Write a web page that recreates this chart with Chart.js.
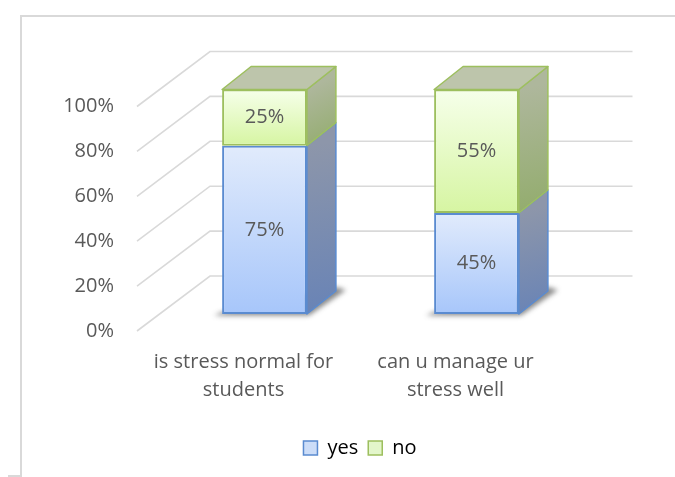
<!DOCTYPE html>
<html>
<head>
<meta charset="utf-8">
<script src="https://cdn.jsdelivr.net/npm/chart.js@4.4.1/dist/chart.umd.min.js"></script>
<style>
  html, body { margin: 0; padding: 0; background: #ffffff; }
  #wrap { width: 675px; height: 477px; }
</style>
</head>
<body>
<div id="wrap"><canvas id="c" width="675" height="477"></canvas></div>
<script>
// ---- data ----
const categories = [['is stress normal for', 'students'], ['can u manage ur', 'stress well']];
const seriesNames = ['yes', 'no'];
const yesValues = [75, 45];
const noValues = [25, 55];
const yTicks = [0, 20, 40, 60, 80, 100];

// ---- styling ----
const TEXT = '#595959';
const GRID = '#D9D9D9';
const DX = 29, DY = -23;                 // bar depth projection
const FRONT = { dx: -21.5, dy: 17 };     // floor front edge offset
const BACK = { dx: 51.5, dy: -38 };      // back wall offset
const RIGHT_EXT = 50;

const styles = [
  { front: ['#E1EBFC', '#A7C6FA'], side: ['#8D96AA', '#6883B6'], top: '#C8D6EE', border: '#5A8BD0', legend: '#CCDDF8' },
  { front: ['#F6FFEA', '#D6F5A2'], side: ['#AEB79C', '#92AC6C'], top: '#BDC5AB', border: '#9DBF5E', legend: '#E3F6CB' }
];

Chart.defaults.font.family = "'Open Sans', sans-serif";
Chart.defaults.font.size = 20;
Chart.defaults.color = TEXT;

function segRange(chart, dsi, di) {
  let start = 0;
  for (let k = 0; k < dsi; k++) start += chart.data.datasets[k].data[di];
  return [start, start + chart.data.datasets[dsi].data[di]];
}

function frontFill(idx) {
  return (ctx) => {
    const chart = ctx.chart;
    const y = chart.scales.y;
    if (!chart.chartArea || !y || ctx.type !== 'data') return styles[idx].front[1];
    const [s, e] = segRange(chart, ctx.datasetIndex, ctx.dataIndex);
    const y0 = y.getPixelForValue(e), y1 = y.getPixelForValue(s);
    if (!isFinite(y0) || !isFinite(y1)) return styles[idx].front[1];
    const g = chart.ctx.createLinearGradient(0, y0, 0, y1);
    g.addColorStop(0, styles[idx].front[0]);
    g.addColorStop(1, styles[idx].front[1]);
    return g;
  };
}

const threeD = {
  id: 'threeD',
  beforeDraw(chart) {
    const { ctx, chartArea: a, scales: { y } } = chart;
    ctx.save();
    ctx.strokeStyle = GRID;
    ctx.lineWidth = 2;
    ctx.beginPath();
    ctx.moveTo(21, 477); ctx.lineTo(21, 16); ctx.lineTo(675, 16);
    ctx.stroke();
    ctx.beginPath();
    ctx.moveTo(8, 476); ctx.lineTo(21, 476);
    ctx.stroke();
    ctx.lineWidth = 1.6;
    y.ticks.forEach(t => {
      const py = y.getPixelForValue(t.value);
      ctx.beginPath();
      ctx.moveTo(a.left + FRONT.dx, py + FRONT.dy);
      ctx.lineTo(a.left + BACK.dx, py + BACK.dy);
      ctx.lineTo(a.right + RIGHT_EXT, py + BACK.dy);
      ctx.stroke();
    });
    ctx.restore();
  },
  beforeDatasetsDraw(chart) {
    const ctx = chart.ctx;
    const n = chart.data.datasets.length;
    // soft shadow at the base
    chart.getDatasetMeta(0).data.forEach(bar => {
      const l = bar.x - bar.width / 2, r = bar.x + bar.width / 2, b = bar.base;
      ctx.save();
      ctx.filter = 'blur(2.5px)';
      ctx.fillStyle = 'rgba(40,40,40,0.55)';
      ctx.beginPath();
      ctx.moveTo(l - 8, b + 1.5);
      ctx.lineTo(r + 2, b + 1.5);
      ctx.lineTo(r + DX + 10, b + DY - 1);
      ctx.lineTo(r + DX, b + DY - 4);
      ctx.lineTo(l, b - 2);
      ctx.closePath();
      ctx.fill();
      ctx.restore();
    });
    for (let i = 0; i < n; i++) {
      const st = styles[i];
      chart.getDatasetMeta(i).data.forEach(bar => {
        const l = bar.x - bar.width / 2, r = bar.x + bar.width / 2;
        const top = bar.y, base = bar.base;
        ctx.save();
        const g = ctx.createLinearGradient(r, top, r + DX, base);
        g.addColorStop(0, st.side[0]);
        g.addColorStop(1, st.side[1]);
        ctx.fillStyle = g;
        ctx.strokeStyle = st.border;
        ctx.lineWidth = 1.5;
        ctx.lineJoin = 'round';
        ctx.beginPath();
        ctx.moveTo(r, top);
        ctx.lineTo(r + DX, top + DY);
        ctx.lineTo(r + DX, base + DY);
        ctx.lineTo(r, base);
        ctx.closePath();
        ctx.fill();
        ctx.stroke();
        if (i === n - 1) {
          ctx.fillStyle = st.top;
          ctx.beginPath();
          ctx.moveTo(l, top);
          ctx.lineTo(l + DX, top + DY);
          ctx.lineTo(r + DX, top + DY);
          ctx.lineTo(r, top);
          ctx.closePath();
          ctx.fill();
          ctx.stroke();
        }
        ctx.restore();
      });
    }
  },
  afterDatasetsDraw(chart) {
    const ctx = chart.ctx;
    ctx.save();
    ctx.fillStyle = TEXT;
    ctx.font = "20px 'Open Sans', sans-serif";
    ctx.textAlign = 'center';
    ctx.textBaseline = 'middle';
    chart.data.datasets.forEach((ds, i) => {
      chart.getDatasetMeta(i).data.forEach((bar, j) => {
        ctx.fillText(ds.data[j] + '%', bar.x, (bar.y + bar.base) / 2);
      });
    });
    ctx.restore();
  }
};

new Chart(document.getElementById('c'), {
  type: 'bar',
  data: {
    labels: categories,
    datasets: [
      { label: seriesNames[0], data: yesValues, backgroundColor: frontFill(0), borderColor: styles[0].border, borderWidth: 2, borderSkipped: false },
      { label: seriesNames[1], data: noValues, backgroundColor: frontFill(1), borderColor: styles[1].border, borderWidth: 2, borderSkipped: false }
    ]
  },
  options: {
    responsive: false,
    animation: false,
    devicePixelRatio: 1,
    layout: { padding: { top: 89.5, left: 45, right: 0, bottom: 9 } },
    datasets: { bar: { categoryPercentage: 0.4, barPercentage: 1.0 } },
    scales: {
      x: {
        stacked: true,
        grid: { display: false, drawTicks: false },
        border: { display: false },
        afterFit: s => { s.height = 114; },
        ticks: { padding: 34, labelOffset: -21, maxRotation: 0, minRotation: 0, autoSkip: false, color: TEXT, font: { size: 20, lineHeight: 1.4 } }
      },
      y: {
        stacked: true,
        min: 0,
        max: 100,
        grid: { display: false, drawTicks: false },
        border: { display: false },
        afterBuildTicks: s => { s.ticks = yTicks.map(v => ({ value: v })); },
        afterFit: s => { s.width = 113.5; },
        ticks: { padding: 44.5, labelOffset: 17, color: TEXT, font: { size: 20 }, callback: v => v + '%' }
      },
      yRight: {
        type: 'linear',
        position: 'right',
        display: true,
        grid: { display: false, drawTicks: false },
        border: { display: false },
        ticks: { display: false },
        afterFit: s => { s.width = 92.5; }
      }
    },
    plugins: {
      tooltip: { enabled: false },
      legend: {
        position: 'bottom',
        labels: {
          boxWidth: 14,
          boxHeight: 14,
          padding: 10,
          color: TEXT,
          font: { size: 20 },
          generateLabels: chart => chart.data.datasets.map((ds, i) => ({
            text: ds.label,
            fillStyle: styles[i].legend,
            strokeStyle: styles[i].border,
            lineWidth: 1.5,
            datasetIndex: i,
            hidden: false
          }))
        }
      }
    }
  },
  plugins: [threeD]
});
</script>
</body>
</html>
